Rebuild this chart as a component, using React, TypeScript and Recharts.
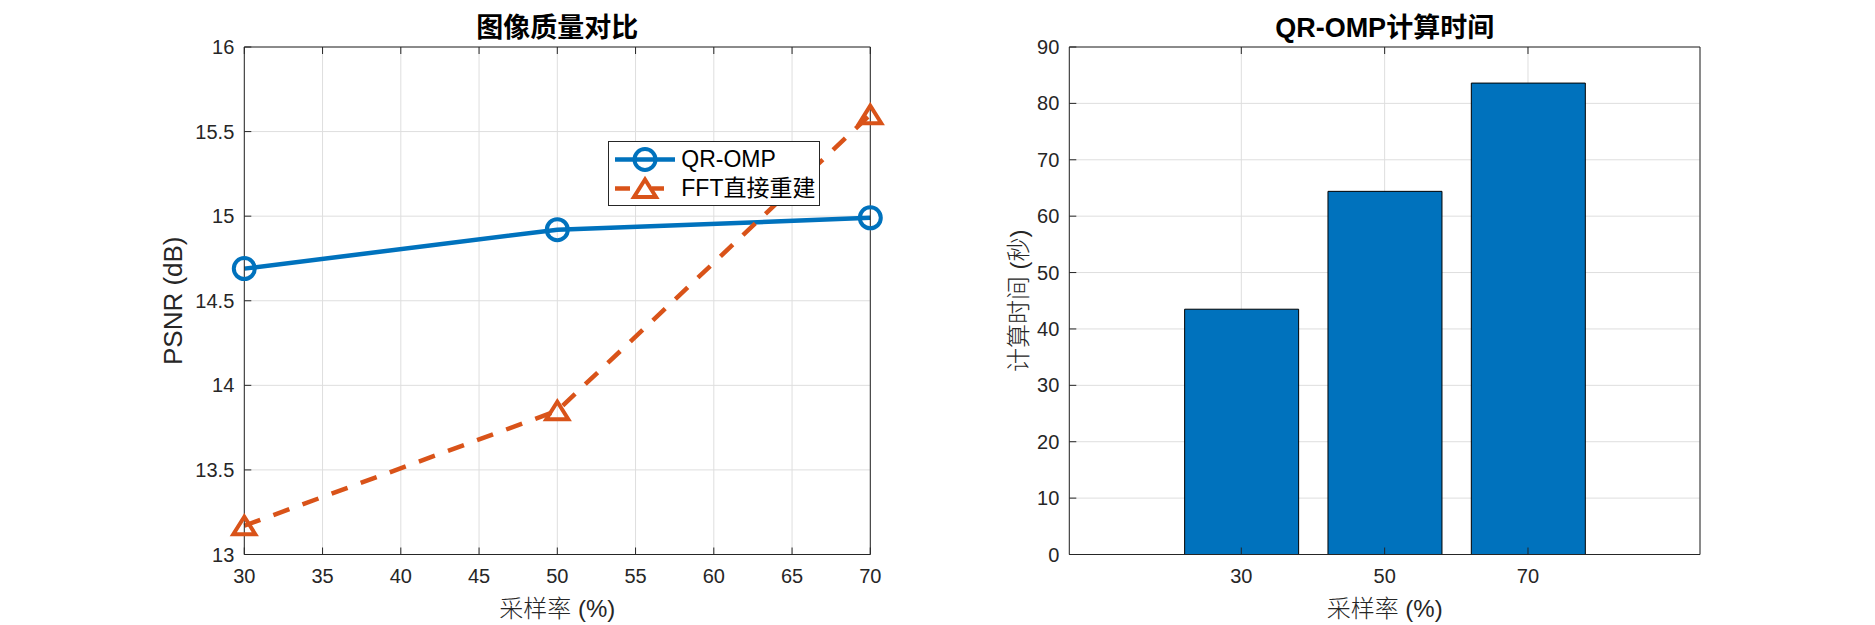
import { LineChart, Line, BarChart, Bar, XAxis, YAxis, CartesianGrid, Legend } from 'recharts';

// sampling rates (%)
const rates = [30, 50, 70];
// PSNR (dB) per method
const qrOmpPsnr = [14.69, 14.92, 14.99];
const fftPsnr = [13.17, 13.85, 15.6];
// QR-OMP computation time (s)
const qrOmpTime = [43.5, 64.4, 83.6];

const psnrXTicks = [30, 35, 40, 45, 50, 55, 60, 65, 70];
const psnrYTicks = [13, 13.5, 14, 14.5, 15, 15.5, 16];
const timeXTicks = [30, 50, 70];
const timeYTicks = [0, 10, 20, 30, 40, 50, 60, 70, 80, 90];

const BLUE = '#0072BD';
const ORANGE = '#D95319';
const AXIS = '#262626';
const GRID = '#dedede';
const DASH = '17 14';

const psnrData = rates.map((rate, i) => ({ rate, qr: qrOmpPsnr[i], fft: fftPsnr[i] }));
const timeData = rates.map((rate, i) => ({ rate, time: qrOmpTime[i] }));

const LATIN = '"Liberation Sans", Arial, "Noto Sans CJK SC", sans-serif';
const CJK = '"Liberation Sans", "Noto Sans CJK SC", sans-serif';

const tickStyle = { fontSize: 20, fill: AXIS };
const noTick = () => <g />;

const CircleDot = (props: any) => {
  const { cx, cy, index } = props;
  if (cx == null || cy == null) return <g key={index} />;
  return <circle key={index} cx={cx} cy={cy} r={10.5} fill="none" stroke={BLUE} strokeWidth={4} />;
};

const triPoints = (cx: number, cy: number) =>
  `${cx},${cy - 9} ${cx - 11},${cy + 8.5} ${cx + 11},${cy + 8.5}`;

const TriangleDot = (props: any) => {
  const { cx, cy, index } = props;
  if (cx == null || cy == null) return <g key={index} />;
  return <polygon key={index} points={triPoints(cx, cy)} fill="none" stroke={ORANGE} strokeWidth={4} />;
};

const legendItems = [
  { name: 'QR-OMP', color: BLUE, marker: 'circle' },
  { name: 'FFT直接重建', color: ORANGE, marker: 'triangle' },
];

function PsnrLegend() {
  return (
    <div style={{ width: 210, height: 63, border: `1px solid ${AXIS}`, background: '#fff', position: 'relative' }}>
      <svg width={72} height={63} style={{ position: 'absolute', left: 0, top: 0 }}>
        {legendItems.map((item, i) => {
          const cy = 17.5 + i * 29;
          return item.marker === 'circle' ? (
            <g key={item.name}>
              <line x1={6} x2={66} y1={cy} y2={cy} stroke={item.color} strokeWidth={4.5} />
              <circle cx={36} cy={cy} r={10.5} fill="none" stroke={item.color} strokeWidth={4} />
            </g>
          ) : (
            <g key={item.name}>
              <line x1={6} x2={21} y1={cy} y2={cy} stroke={item.color} strokeWidth={4.5} />
              <line x1={43} x2={55} y1={cy} y2={cy} stroke={item.color} strokeWidth={4.5} />
              <polygon points={triPoints(36, cy)} fill="none" stroke={item.color} strokeWidth={4} />
            </g>
          );
        })}
      </svg>
      {legendItems.map((item, i) => (
        <div
          key={item.name}
          style={{
            position: 'absolute', left: 72, top: 17.5 + i * 29 - 14, height: 28, lineHeight: '28px',
            fontSize: 23, color: '#000', fontFamily: CJK, whiteSpace: 'nowrap',
          }}
        >
          {item.name}
        </div>
      ))}
    </div>
  );
}

export default function App() {
  return (
    <div style={{ position: 'absolute', left: 0, top: 0, width: 1875, height: 625, background: '#fff', fontFamily: LATIN }}>
      {/* Image quality comparison */}
      <div style={{ position: 'absolute', left: 0, top: 0 }}>
        <LineChart width={940} height={625} data={psnrData} margin={{ top: 46, right: 68.7, bottom: 0, left: 0 }}>
          <CartesianGrid stroke={GRID} />
          <XAxis
            dataKey="rate" type="number" domain={[30, 70]} ticks={psnrXTicks} height={70.5}
            tickSize={-7} tickMargin={21.5} tick={tickStyle} stroke={AXIS}
            label={{ value: '采样率 (%)', position: 'insideBottom', offset: 8, style: { fontSize: 24, fill: AXIS, fontFamily: CJK, fontWeight: 300 } }}
          />
          <XAxis
            xAxisId="top" orientation="top" dataKey="rate" type="number" domain={[30, 70]} ticks={psnrXTicks}
            height={1} tickSize={-7} tick={noTick} stroke={AXIS}
            label={{ value: '图像质量对比', position: 'top', offset: 9, style: { fontSize: 27, fontWeight: 700, fill: '#000', fontFamily: CJK } }}
          />
          <YAxis
            type="number" domain={[13, 16]} ticks={psnrYTicks} width={244.3}
            tickSize={-7} tickMargin={17} tick={tickStyle} stroke={AXIS}
            label={{ value: 'PSNR (dB)', angle: -90, position: 'insideLeft', offset: 173, style: { fontSize: 26, fill: AXIS, textAnchor: 'middle' } }}
          />
          <YAxis
            yAxisId="right" orientation="right" type="number" domain={[13, 16]} ticks={psnrYTicks}
            width={1} tickSize={-7} tick={noTick} stroke={AXIS}
          />
          <Legend
            layout="horizontal" verticalAlign="middle" align="center"
            wrapperStyle={{ left: 608.3, top: 140.7, width: 212, height: 65 }}
            content={() => <PsnrLegend />}
          />
          <Line
            dataKey="qr" name="QR-OMP" stroke={BLUE} strokeWidth={4.5} dot={CircleDot}
            activeDot={false} isAnimationActive={false}
          />
          <Line
            dataKey="fft" name="FFT直接重建" stroke={ORANGE} strokeWidth={4.5} strokeDasharray={DASH}
            dot={TriangleDot} activeDot={false} isAnimationActive={false}
          />
        </LineChart>
      </div>

      {/* QR-OMP computation time */}
      <div style={{ position: 'absolute', left: 940, top: 0 }}>
        <BarChart width={935} height={625} data={timeData} margin={{ top: 46, right: 174, bottom: 0, left: 0 }}>
          <CartesianGrid stroke={GRID} />
          <XAxis
            dataKey="rate" type="number" domain={[6, 94]} ticks={timeXTicks} height={70.5}
            tickSize={-7} tickMargin={21.5} tick={tickStyle} stroke={AXIS}
            label={{ value: '采样率 (%)', position: 'insideBottom', offset: 8, style: { fontSize: 24, fill: AXIS, fontFamily: CJK, fontWeight: 300 } }}
          />
          <XAxis
            xAxisId="top" orientation="top" dataKey="rate" type="number" domain={[6, 94]} ticks={timeXTicks}
            height={1} tickSize={-7} tick={noTick} stroke={AXIS}
            label={{ value: 'QR-OMP计算时间', position: 'top', offset: 9, style: { fontSize: 27, fontWeight: 700, fill: '#000', fontFamily: CJK } }}
          />
          <YAxis
            type="number" domain={[0, 90]} ticks={timeYTicks} width={129.3}
            tickSize={-7} tickMargin={17} tick={tickStyle} stroke={AXIS}
            label={{ value: '计算时间 (秒)', angle: -90, position: 'insideLeft', offset: 78, style: { fontSize: 24, fill: AXIS, textAnchor: 'middle', fontFamily: CJK, fontWeight: 300 } }}
          />
          <YAxis
            yAxisId="right" orientation="right" type="number" domain={[0, 90]} ticks={timeYTicks}
            width={1} tickSize={-7} tick={noTick} stroke={AXIS}
          />
          <Bar dataKey="time" barSize={114} fill={BLUE} stroke="#000" strokeWidth={1} isAnimationActive={false} />
        </BarChart>
      </div>
    </div>
  );
}
